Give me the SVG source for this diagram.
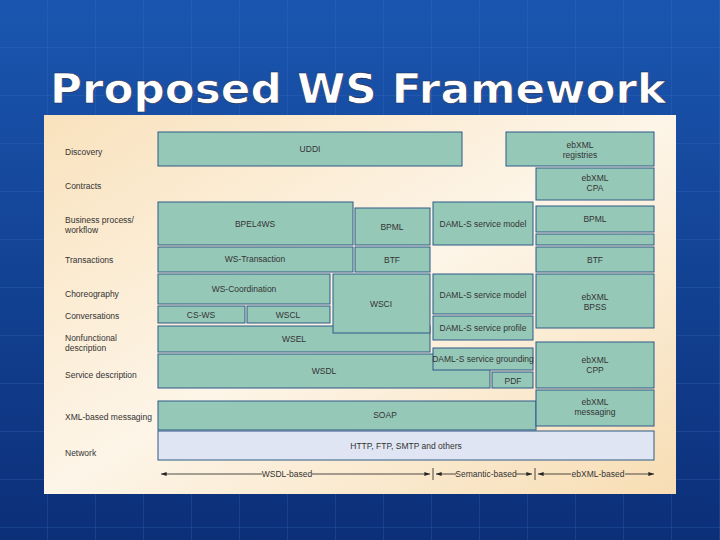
<svg xmlns="http://www.w3.org/2000/svg" width="720" height="540" viewBox="0 0 720 540">
<defs>
<linearGradient id="bg" x1="0" y1="0" x2="0" y2="1"><stop offset="0" stop-color="#1a56b0"/><stop offset="1" stop-color="#0c2f78"/></linearGradient>
<linearGradient id="panel" x1="0" y1="0" x2="1" y2="1"><stop offset="0" stop-color="#f9e2bd"/><stop offset="0.5" stop-color="#fdf5e8"/><stop offset="1" stop-color="#f7ddb4"/></linearGradient>
<pattern id="grid" width="48" height="48" patternUnits="userSpaceOnUse"><path d="M48 0V48H0" fill="none" stroke="#3a72c8" stroke-width="1" opacity="0.5"/></pattern>
<marker id="ah" viewBox="0 0 8 8" refX="8" refY="4" markerWidth="7" markerHeight="7" orient="auto-start-reverse"><path d="M0 1L8 4L0 7z" fill="#222"/></marker>
</defs>
<style>
.b{fill:#96c8b8;stroke:#2d5a88;stroke-width:1}
.n{fill:#dfe5f2;stroke:#2d5a88;stroke-width:1}
.t{font-family:"Liberation Sans",Arial,sans-serif;font-size:8.5px;fill:#333;text-anchor:middle}
.l{font-family:"Liberation Sans",Arial,sans-serif;font-size:8.5px;fill:#333}
.c{stroke:#222;stroke-width:0.8;fill:none}
</style>
<rect width="720" height="540" fill="url(#bg)"/>
<rect width="720" height="540" fill="url(#grid)"/>
<text x="50" y="103" font-family="'DejaVu Sans',Verdana,sans-serif" font-weight="bold" font-size="40" fill="#fff" stroke="#1a2a50" stroke-width="0.6" textLength="616" lengthAdjust="spacingAndGlyphs">Proposed WS Framework</text>
<rect x="44" y="115" width="632" height="379" fill="url(#panel)"/>
<g id="labels">
<text class="l" x="65" y="155">Discovery</text>
<text class="l" x="65" y="189">Contracts</text>
<text class="l" x="65" y="223">Business process/</text><text class="l" x="65" y="233">workflow</text>
<text class="l" x="65" y="263">Transactions</text>
<text class="l" x="65" y="297">Choreography</text>
<text class="l" x="65" y="319">Conversations</text>
<text class="l" x="65" y="341">Nonfunctional</text><text class="l" x="65" y="351">description</text>
<text class="l" x="65" y="378">Service description</text>
<text class="l" x="65" y="420">XML-based messaging</text>
<text class="l" x="65" y="456">Network</text>
</g>
<g id="n-uddi"><rect class="b" x="158" y="132" width="304" height="34"/><text class="t" x="310" y="152">UDDI</text></g>
<g id="n-ebreg"><rect class="b" x="506" y="132" width="148" height="34"/><text class="t" x="580" y="148">ebXML</text><text class="t" x="580" y="158">registries</text></g>
<g id="n-ebcpa"><rect class="b" x="536" y="168" width="118" height="32"/><text class="t" x="595" y="181">ebXML</text><text class="t" x="595" y="191">CPA</text></g>
<g id="n-bpel"><rect class="b" x="158" y="202" width="195" height="43"/><text class="t" x="255" y="227">BPEL4WS</text></g>
<g id="n-bpml"><rect class="b" x="355" y="208" width="75" height="37"/><text class="t" x="392" y="230">BPML</text></g>
<g id="n-damlm1"><rect class="b" x="433" y="202" width="100" height="43"/><text class="t" x="483" y="227">DAML-S service model</text></g>
<g id="n-bpml2"><rect class="b" x="536" y="206" width="118" height="26"/><text class="t" x="595" y="222">BPML</text><rect class="b" x="536" y="234" width="118" height="11"/></g>
<g id="n-wstx"><rect class="b" x="158" y="247" width="195" height="25"/><text class="t" x="255" y="262">WS-Transaction</text></g>
<g id="n-btf"><rect class="b" x="355" y="247" width="75" height="25"/><text class="t" x="392" y="263">BTF</text></g>
<g id="n-btf2"><rect class="b" x="536" y="247" width="118" height="25"/><text class="t" x="595" y="263">BTF</text></g>
<g id="n-wsel"><rect class="b" x="158" y="326" width="272" height="26"/><text class="t" x="294" y="342">WSEL</text></g>
<g id="n-wscoord"><rect class="b" x="158" y="274" width="172" height="30"/><text class="t" x="244" y="292">WS-Coordination</text></g>
<g id="n-wsci"><rect class="b" x="333" y="274" width="97" height="59"/><text class="t" x="381" y="307">WSCI</text></g>
<g id="n-damlm2"><rect class="b" x="433" y="274" width="100" height="40"/><text class="t" x="483" y="298">DAML-S service model</text></g>
<g id="n-bpss"><rect class="b" x="536" y="274" width="118" height="54"/><text class="t" x="595" y="300">ebXML</text><text class="t" x="595" y="310">BPSS</text></g>
<g id="n-csws"><rect class="b" x="158" y="306" width="87" height="17"/><text class="t" x="201" y="318">CS-WS</text></g>
<g id="n-wscl"><rect class="b" x="247" y="306" width="83" height="17"/><text class="t" x="288" y="318">WSCL</text></g>
<g id="n-damlp"><rect class="b" x="433" y="316" width="100" height="24"/><text class="t" x="483" y="331">DAML-S service profile</text></g>
<g id="n-wsdl"><rect class="b" x="158" y="354" width="332" height="34"/><text class="t" x="324" y="374">WSDL</text></g>
<g id="n-damlg"><rect class="b" x="433" y="348" width="100" height="22"/><text class="t" x="483" y="362" font-size="7.2">DAML-S service grounding</text></g>
<g id="n-pdf"><rect class="b" x="492" y="372" width="41" height="16"/><text class="t" x="513" y="384">PDF</text></g>
<g id="n-cpp"><rect class="b" x="536" y="342" width="118" height="46"/><text class="t" x="595" y="363">ebXML</text><text class="t" x="595" y="373">CPP</text></g>
<g id="n-soap"><rect class="b" x="158" y="401" width="378" height="29"/><text class="t" x="385" y="418">SOAP</text></g>
<g id="n-ebmsg"><rect class="b" x="536" y="390" width="118" height="36"/><text class="t" x="595" y="405">ebXML</text><text class="t" x="595" y="415">messaging</text></g>
<g id="n-net"><rect class="n" x="158" y="431" width="496" height="29"/><text class="t" x="406" y="449">HTTP, FTP, SMTP and others</text></g>
<g id="connectors">
<line class="c" x1="161" y1="474" x2="262" y2="474" marker-start="url(#ah)"/>
<line class="c" x1="312" y1="474" x2="430" y2="474" marker-end="url(#ah)"/>
<line class="c" x1="433" y1="468" x2="433" y2="480"/>
<line class="c" x1="436" y1="474" x2="456" y2="474" marker-start="url(#ah)"/>
<line class="c" x1="516" y1="474" x2="532" y2="474" marker-end="url(#ah)"/>
<line class="c" x1="535" y1="468" x2="535" y2="480"/>
<line class="c" x1="538" y1="474" x2="571" y2="474" marker-start="url(#ah)"/>
<line class="c" x1="625" y1="474" x2="654" y2="474" marker-end="url(#ah)"/>
<text class="t" x="287" y="477">WSDL-based</text>
<text class="t" x="486" y="477">Semantic-based</text>
<text class="t" x="598" y="477">ebXML-based</text>
</g>
</svg>
